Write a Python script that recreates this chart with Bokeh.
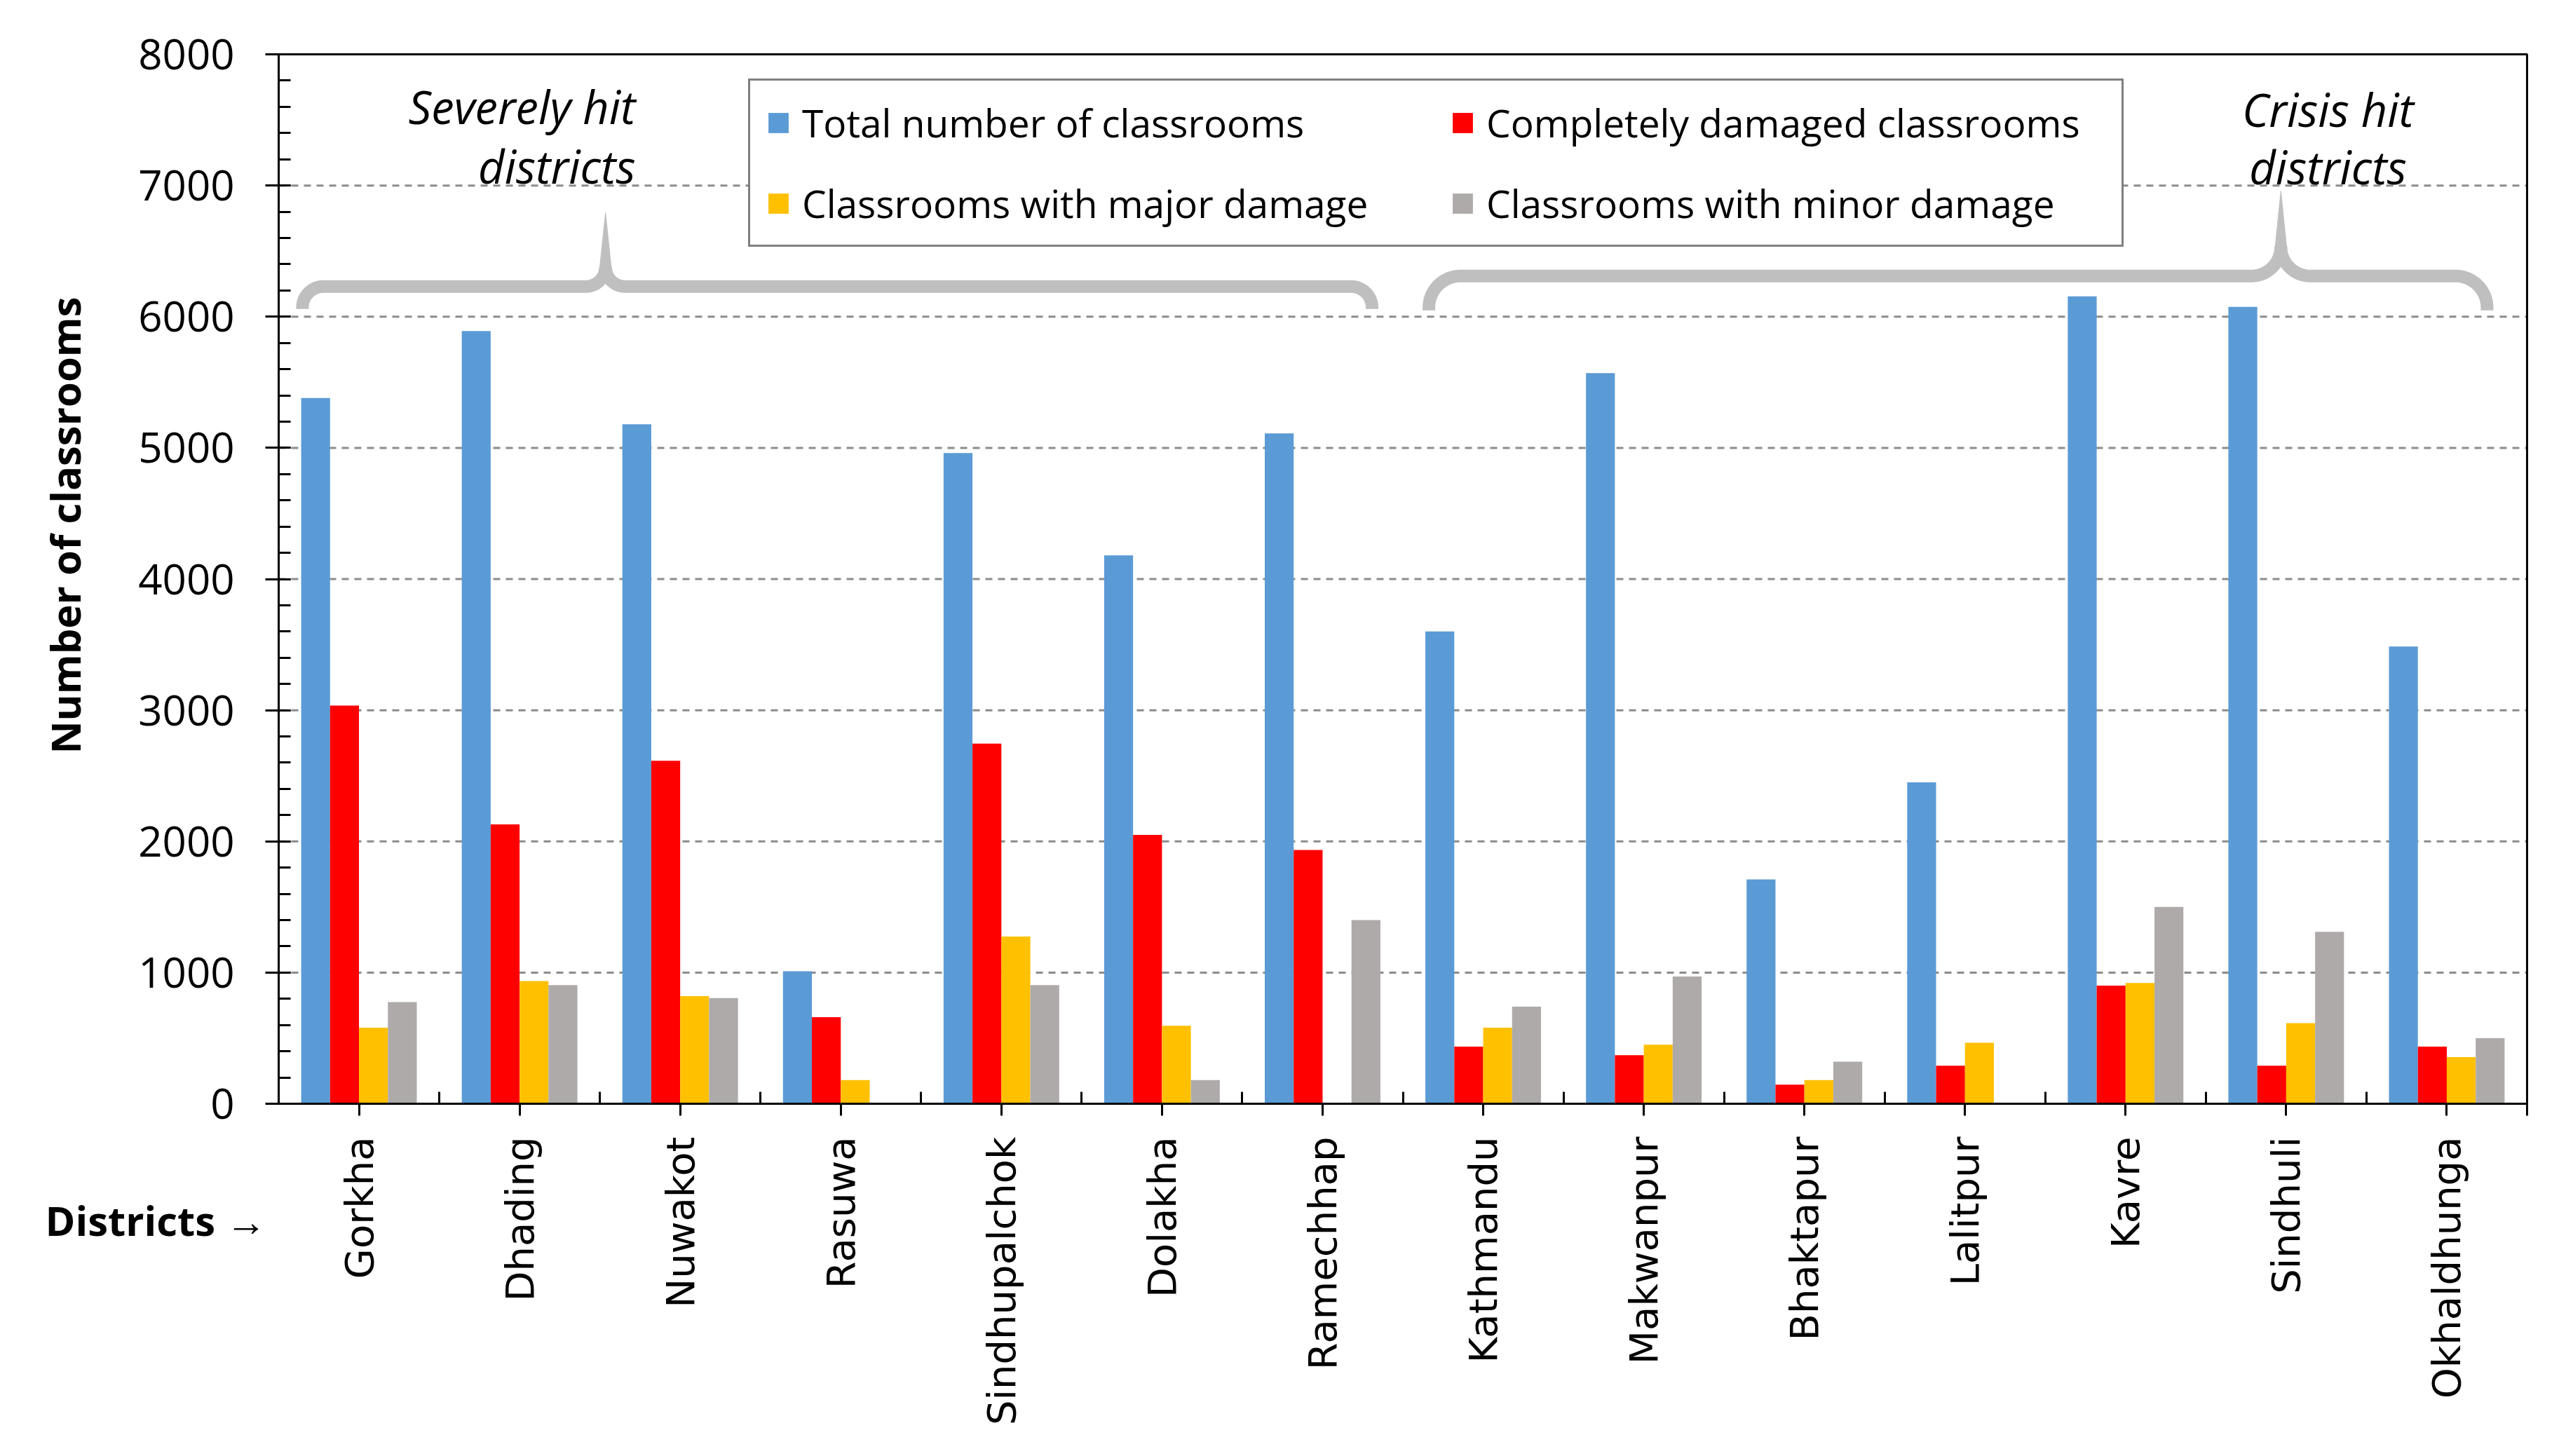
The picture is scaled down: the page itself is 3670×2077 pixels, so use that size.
import numpy as np
from bokeh.plotting import figure
from bokeh.models import (Range1d, FixedTicker, SingleIntervalTicker, Legend,
                          LegendItem, Label)
from bokeh.embed import file_html
from bokeh.resources import INLINE

# ---------------- data ----------------
districts = ["Gorkha", "Dhading", "Nuwakot", "Rasuwa", "Sindhupalchok", "Dolakha",
             "Ramechhap", "Kathmandu", "Makwanpur", "Bhaktapur", "Lalitpur", "Kavre",
             "Sindhuli", "Okhaldhunga"]
total_classrooms = [5380, 5890, 5180, 1010, 4960, 4180, 5110, 3600, 5570, 1710, 2450, 6155, 6075, 3485]
completely_damaged = [3035, 2130, 2615, 660, 2745, 2050, 1935, 435, 370, 145, 290, 900, 290, 435]
major_damage = [580, 935, 820, 180, 1275, 595, 0, 580, 450, 180, 465, 920, 615, 355]
minor_damage = [775, 905, 805, 0, 905, 180, 1400, 740, 970, 320, 0, 1500, 1310, 500]

series_names = ["Total number of classrooms", "Completely damaged classrooms",
                "Classrooms with major damage", "Classrooms with minor damage"]
series_values = [total_classrooms, completely_damaged, major_damage, minor_damage]
series_colors = ["#5B9BD5", "#FF0000", "#FFC000", "#AEAAAA"]

y_interval = 1000
y_max = 8000
grid_values = list(range(y_interval, y_max, y_interval))

# ---------------- geometry (pixels) ----------------
W, H = 3654, 2060            # canvas
PL, PT = 397, 77             # plot-area offset from canvas left / top
PW, PH = 3207, 1497          # plot-area size
n = len(districts)
KX = PW / n                  # px per category
KY = PH / y_max              # px per unit
x0, x1 = -0.5, n - 0.5
x_start = x0 - PL / KX
x_end = x1 + (W - PL - PW) / KX
y_end = y_max + PT / KY
y_start = -(H - PT - PH) / KY


def dx(px):  # canvas px from left -> data x
    return x_start + px / KX


def dy(py):  # canvas px from top -> data y
    return y_end - py / KY


p = figure(frame_width=W, frame_height=H, min_border=0,
           x_range=Range1d(x_start, x_end), y_range=Range1d(y_start, y_end),
           output_backend="svg", toolbar_location=None)
p.background_fill_color = "white"
p.border_fill_color = "white"
p.outline_line_color = None
p.xgrid.visible = False
p.ygrid.visible = False

# dashed horizontal gridlines inside the plot area
p.segment(x0=[x0] * len(grid_values), x1=[x1] * len(grid_values), y0=grid_values, y1=grid_values,
          line_color="#8C8C8C", line_width=3, line_dash="10 8")

# bars
bar_w = 0.18
offsets = (np.arange(4) - 1.5) * bar_w
renderers = []
xs = np.arange(n)
for name, vals, col, off in zip(series_names, series_values, series_colors, offsets):
    r = p.vbar(x=xs + off, top=vals, bottom=0, width=bar_w, fill_color=col, line_color=None)
    renderers.append(r)

# plot-area border (top and right)
p.line(x=[x0, x1, x1], y=[y_max, y_max, -17 / KY], line_color="black", line_width=3)

# axes at fixed locations
yax = p.yaxis[0]
yax.fixed_location = x0
yax.bounds = (0, y_max)
yax.ticker = SingleIntervalTicker(interval=y_interval, num_minor_ticks=5)
yax.axis_line_width = 3
yax.major_tick_line_width = 3
yax.minor_tick_line_width = 3
yax.major_tick_out = 19
yax.major_tick_in = 17
yax.minor_tick_out = 0
yax.minor_tick_in = 17
yax.major_label_standoff = 44
yax.major_label_text_font = "Open Sans"
yax.major_label_text_font_size = "60px"
yax.major_label_text_color = "black"

xax = p.xaxis[0]
xax.fixed_location = 0
xax.bounds = (x0, x1)
xax.ticker = FixedTicker(ticks=list(range(n)), minor_ticks=[i + 0.5 for i in range(-1, n)])
xax.major_label_overrides = {i: d for i, d in enumerate(districts)}
xax.major_label_orientation = np.pi / 2
xax.axis_line_width = 3
xax.major_tick_line_width = 3
xax.minor_tick_line_width = 3
xax.major_tick_out = 17
xax.major_tick_in = 0
xax.minor_tick_out = 0
xax.minor_tick_in = 17
xax.major_label_standoff = 30
xax.major_label_text_font = "DejaVu Sans"
xax.major_label_text_font_size = "56px"
xax.major_label_text_color = "black"

# ---------------- braces (annotation shapes) ----------------
def brace(bx0, bx1, xt, y_endpt, y_h, y_tip, r_end, r_tip):
    X0, X1, XT = bx0 * KX, bx1 * KX, xt * KX
    YE, YH, YT = y_endpt * KY, y_h * KY, y_tip * KY
    m = 24
    a1 = np.linspace(np.pi, np.pi / 2, m)
    s1x = X0 + r_end + r_end * np.cos(a1); s1y = YH - r_end + r_end * np.sin(a1)
    a2 = np.linspace(-np.pi / 2, 0, m)
    s2x = XT - r_tip + r_tip * np.cos(a2); s2y = YH + r_tip + r_tip * np.sin(a2)
    a3 = np.linspace(np.pi, 1.5 * np.pi, m)
    s3x = XT + r_tip + r_tip * np.cos(a3); s3y = YH + r_tip + r_tip * np.sin(a3)
    a4 = np.linspace(np.pi / 2, 0, m)
    s4x = X1 - r_end + r_end * np.cos(a4); s4y = YH - r_end + r_end * np.sin(a4)
    lx = np.concatenate([[X0], s1x, s2x]) / KX
    ly = np.concatenate([[YE], s1y, s2y]) / KY
    rx = np.concatenate([s3x, s4x, [X1]]) / KX
    ry = np.concatenate([s3y, s4y, [YE]]) / KY
    w = 17
    base = YH + r_tip - 4
    spx = np.array([XT - w / 2, XT, XT + w / 2]) / KX
    spy = np.array([base, YT, base]) / KY
    return [lx, rx], [ly, ry], spx, spy


brace_color = "#BFBFBF"
for args in [(-0.352, 6.308, 1.535, 6059, 6230, 6791, 30, 28),
             (6.662, 13.251, 11.967, 6048, 6310, 6957, 45, 42)]:
    mx, my, spx, spy = brace(*args)
    p.multi_line(xs=mx, ys=my, line_color=brace_color, line_width=18,
                 line_cap="butt", line_join="round")
    p.patch(x=spx, y=spy, fill_color=brace_color, line_color=brace_color, line_width=1)

# group captions
cap_style = dict(text_font="Open Sans", text_font_style="italic", text_font_size="65px",
                 text_color="black", text_baseline="alphabetic")
p.add_layout(Label(x=dx(906), y=dy(151), text="Severely hit", text_align="right", **cap_style))
p.add_layout(Label(x=dx(906), y=dy(236), text="districts", text_align="right", **cap_style))
p.add_layout(Label(x=dx(3320), y=dy(155), text="Crisis hit", text_align="center", **cap_style))
p.add_layout(Label(x=dx(3320), y=dy(237), text="districts", text_align="center", **cap_style))

# y axis title and x "Districts" caption
p.add_layout(Label(x=dx(92), y=dy(749), text="Number of classrooms", angle=np.pi / 2,
                   text_align="center", text_baseline="middle", text_font="Open Sans",
                   text_font_style="bold", text_font_size="58px", text_color="black"))
p.add_layout(Label(x=dx(64), y=dy(1740), text="Districts \u2192", text_align="left",
                   text_baseline="middle", text_font="Open Sans", text_font_style="bold",
                   text_font_size="58px", text_color="black"))

# legend
legend = Legend(items=[LegendItem(label=nm, renderers=[r]) for nm, r in zip(series_names, renderers)],
                location=(1067, H - 352), orientation="horizontal", ncols=2)
legend.label_text_font = "Open Sans"
legend.label_text_font_size = "55px"
legend.label_text_color = "black"
legend.glyph_width = 36
legend.glyph_height = 36
legend.label_standoff = 16
legend.label_width = 884
legend.spacing = 40
legend.padding = 22
legend.margin = 0
legend.border_line_color = "black"
legend.border_line_width = 3
legend.background_fill_color = "white"
legend.background_fill_alpha = 1.0
p.add_layout(legend)

open("out.html", "w").write(file_html(p, INLINE))
